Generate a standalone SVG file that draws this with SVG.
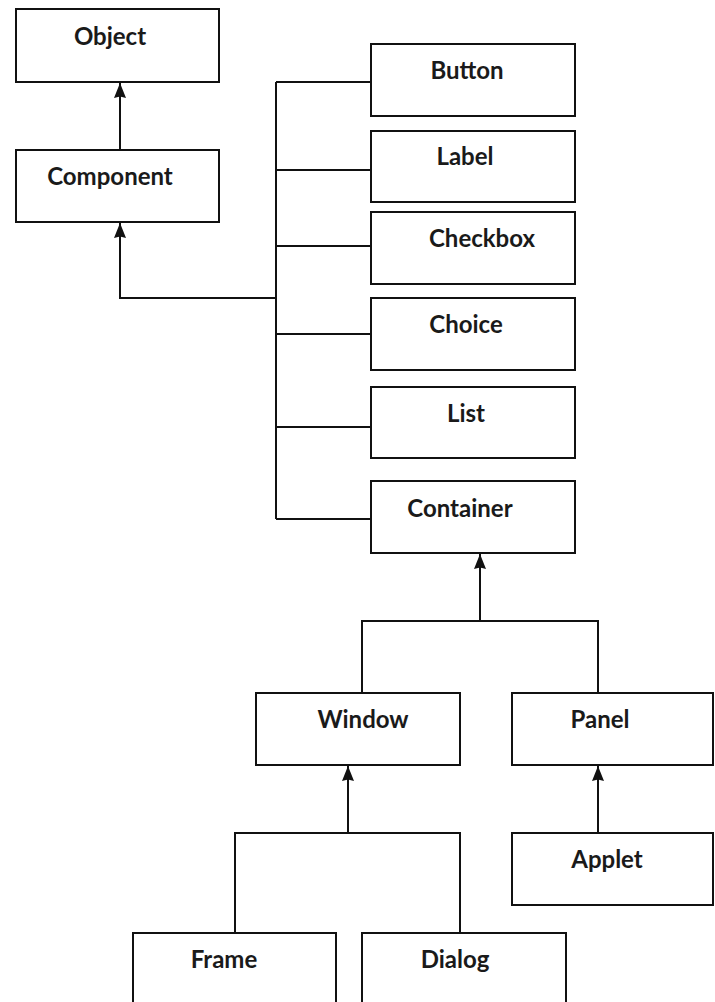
<svg xmlns="http://www.w3.org/2000/svg" width="715" height="1002" viewBox="0 0 715 1002">
<style>
.box{fill:#fff;stroke:#111;stroke-width:2}
.lbl{font-family:Lato,"Open Sans","Liberation Sans",sans-serif;font-weight:bold;font-size:24px;fill:#1a1a1a;text-anchor:middle}
.ln{fill:none;stroke:#111;stroke-width:2}
</style>
<defs>
<marker id="ah" markerUnits="userSpaceOnUse" viewBox="0 0 15 12" markerWidth="15" markerHeight="12" refX="15" refY="6" orient="auto">
<path d="M0,0 L15,6 L0,12 L1.5,6 z" fill="#111"/>
</marker>
</defs>
<rect width="715" height="1002" fill="#fff"/>
<g id="connectors">
<path class="ln" d="M120,150 V83" marker-end="url(#ah)"/>
<path class="ln" d="M276,298 H120 V223" marker-end="url(#ah)"/>
<path class="ln" d="M276,82 V519"/>
<path class="ln" d="M276,82 H371"/>
<path class="ln" d="M276,170 H371"/>
<path class="ln" d="M276,246 H371"/>
<path class="ln" d="M276,334 H371"/>
<path class="ln" d="M276,427 H371"/>
<path class="ln" d="M276,519 H371"/>
<path class="ln" d="M480,621 V554" marker-end="url(#ah)"/>
<path class="ln" d="M362,693 V621 H598 V693"/>
<path class="ln" d="M348,833 V766" marker-end="url(#ah)"/>
<path class="ln" d="M235,933 V833 H460 V933"/>
<path class="ln" d="M598,833 V766" marker-end="url(#ah)"/>
</g>
<g id="Object"><rect class="box" x="16" y="9" width="203" height="73"/><text class="lbl" x="110" y="45">Object</text></g>
<g id="Component"><rect class="box" x="16" y="150" width="203" height="72"/><text class="lbl" x="110" y="185">Component</text></g>
<g id="Button"><rect class="box" x="371" y="44" width="204" height="72"/><text class="lbl" x="467" y="79">Button</text></g>
<g id="Label"><rect class="box" x="371" y="131" width="204" height="71"/><text class="lbl" x="465" y="165">Label</text></g>
<g id="Checkbox"><rect class="box" x="371" y="212" width="204" height="72"/><text class="lbl" x="482" y="247">Checkbox</text></g>
<g id="Choice"><rect class="box" x="371" y="298" width="204" height="72"/><text class="lbl" x="466" y="333">Choice</text></g>
<g id="List"><rect class="box" x="371" y="387" width="204" height="71"/><text class="lbl" x="466" y="422">List</text></g>
<g id="Container"><rect class="box" x="371" y="481" width="204" height="72"/><text class="lbl" x="460" y="517">Container</text></g>
<g id="Window"><rect class="box" x="256" y="693" width="204" height="72"/><text class="lbl" x="363" y="728">Window</text></g>
<g id="Panel"><rect class="box" x="512" y="693" width="201" height="72"/><text class="lbl" x="600" y="728">Panel</text></g>
<g id="Applet"><rect class="box" x="512" y="833" width="201" height="72"/><text class="lbl" x="607" y="868">Applet</text></g>
<g id="Frame"><rect class="box" x="133" y="933" width="203" height="90"/><text class="lbl" x="224" y="968">Frame</text></g>
<g id="Dialog"><rect class="box" x="362" y="933" width="204" height="90"/><text class="lbl" x="455" y="968">Dialog</text></g>
</svg>
